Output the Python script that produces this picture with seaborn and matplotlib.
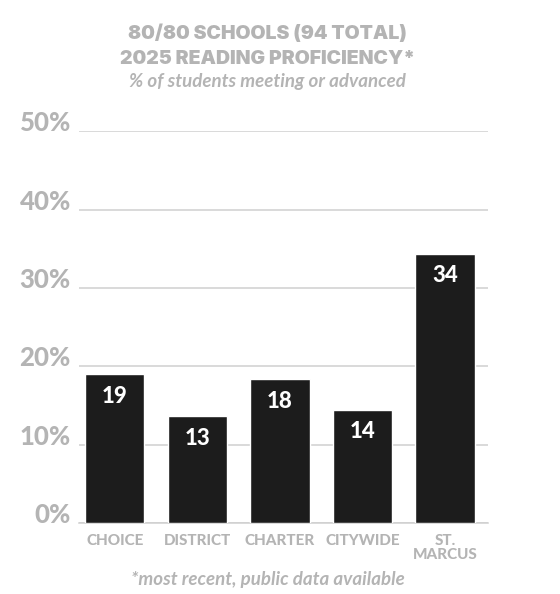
import matplotlib
matplotlib.use("Agg")
import matplotlib.pyplot as plt
import seaborn as sns
import pandas as pd

categories = ["CHOICE", "DISTRICT", "CHARTER", "CITYWIDE", "ST.\nMARCUS"]
values = [19.0, 13.7, 18.4, 14.5, 34.4]
bar_labels = ["19", "13", "18", "14", "34"]
y_ticks = [0, 10, 20, 30, 40, 50]
y_tick_labels = ["0%", "10%", "20%", "30%", "40%", "50%"]
title_line1 = "80/80 SCHOOLS (94 TOTAL)"
title_line2 = "2025 READING PROFICIENCY*"
subtitle = "% of students meeting or advanced"
footnote = "*most recent, public data available"

GRAY = "#b4b4b4"
GRID = "#cfcfcf"
BAR = "#1c1c1c"

sns.set_theme(style="white")
plt.rcParams["font.family"] = ["Lato", "DejaVu Sans"]

df = pd.DataFrame({"category": categories, "value": values})

fig = plt.figure(figsize=(5.6, 5.94), dpi=100)
ax = fig.add_axes([0.1416, 0.119, 0.871 - 0.1416, 0.779 - 0.119])

sns.barplot(data=df, x="category", y="value", color=BAR, width=0.72,
            saturation=1, ax=ax, zorder=3)

ax.set_ylim(0, 50)
ax.set_xlim(-0.43, 4.52)
ax.set_yticks(y_ticks)
ax.set_yticklabels(y_tick_labels, fontsize=18.5, fontweight=900, color=GRAY)
for lab in ax.get_yticklabels():
    lab.set_verticalalignment("baseline")
ax.tick_params(axis="y", length=0, pad=6)
ax.tick_params(axis="x", length=0, pad=8)
for lab in ax.get_xticklabels():
    lab.set_fontsize(11)
    lab.set_fontweight(900)
    lab.set_color(GRAY)
    lab.set_linespacing(0.95)
ax.set_xlabel("")
ax.set_ylabel("")
ax.yaxis.grid(True, color=GRID, linewidth=1.1, zorder=0)
ax.xaxis.grid(False)
for s in ["top", "right", "left"]:
    ax.spines[s].set_visible(False)
ax.spines["bottom"].set_color(GRID)
ax.spines["bottom"].set_linewidth(1.1)

for i, (v, lab) in enumerate(zip(values, bar_labels)):
    ax.annotate(lab, xy=(i, v), xytext=(0, -8.5), textcoords="offset points",
                ha="center", va="top", color="white", fontsize=16,
                fontweight=900, zorder=5)

fig.text(0.478, 1 - 34 / 594, title_line1, ha="center", va="center",
         fontsize=14, fontweight=900, color=GRAY, family=["Inter", "DejaVu Sans"])
fig.text(0.478, 1 - 58.5 / 594, title_line2, ha="center", va="center",
         fontsize=14, fontweight=900, color=GRAY, family=["Inter", "DejaVu Sans"])
fig.text(0.478, 1 - 81 / 594, subtitle, ha="center", va="center",
         fontsize=13.5, style="italic", fontweight=700, color=GRAY)
fig.text(0.478, 1 - 579 / 594, footnote, ha="center", va="center",
         fontsize=13.5, style="italic", fontweight=700, color=GRAY)

fig.savefig("out.png", dpi=100, facecolor="white")
